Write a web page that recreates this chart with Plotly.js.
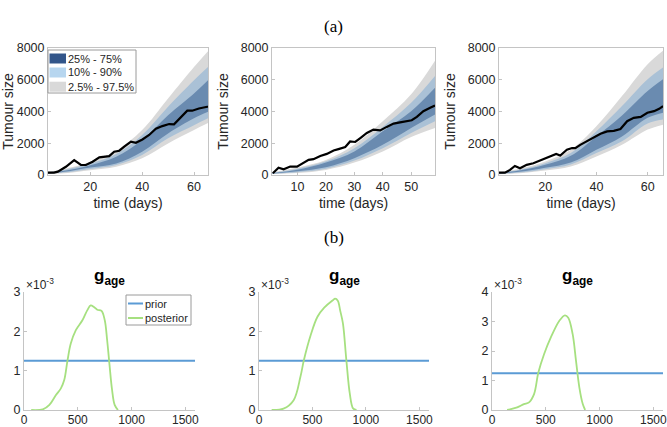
<!DOCTYPE html>
<html>
<head>
<meta charset="utf-8">
<script src="https://cdn.plot.ly/plotly-3.0.1.min.js"></script>
<style>html,body{margin:0;padding:0;background:#fff;}#chart{width:667px;height:427px;}</style>
</head>
<body>
<div id="chart"></div>
<script>
// ---------- DATA ----------
// Panel (a)-1
const obsDays1 = [3.7,6,7.5,10.6,13.8,16.4,18.3,20.9,23.5,25.4,27.3,29.2,31.2,33.1,35.7,37.6,40.1,42.7,45.3,47.8,50.4,52.3,54.9,57.4,59.3,61.9,65.1,65.4];
const obsSize1 = [150,150,210,520,940,630,630,840,1110,1150,1190,1470,1530,1780,2100,2030,2240,2520,2910,3080,3210,3190,3630,4050,4050,4190,4300,4300];
const bandDays1 = [3.7,10,20,30,40,50,60,65.4];
const q025_1 = [60,110,300,520,1050,1990,2830,3270];
const q10_1  = [80,150,380,630,1260,2310,3140,3570];
const q25_1  = [100,200,470,730,1470,2620,3570,3980];
const q75_1  = [150,270,620,1150,2200,3770,5140,5970];
const q90_1  = [175,320,720,1320,2520,4300,5970,6800];
const q975_1 = [200,380,820,1530,2830,4820,6800,7800];

// Panel (a)-2
const obsDays2 = [1.3,3.3,5.1,7.4,9.8,12.1,13.9,15.6,18,20.3,22.7,24.4,26.8,28.5,30.3,32.1,34.4,36.7,39.1,41.4,43.8,46.1,48.5,50.2,52,54.3,56.7,58.4];
const obsSize2 = [110,460,360,530,530,780,950,1000,1200,1330,1540,1630,1760,2110,2080,2330,2650,2860,2810,3030,3240,3320,3390,3450,3660,4020,4230,4380];
const bandDays2 = [1,10,20,30,40,50,58.4];
const q025_2 = [60,130,320,780,1480,2390,2960];
const q10_2  = [75,180,400,910,1690,2650,3390];
const q25_2  = [90,240,490,1060,1900,2960,3810];
const q75_2  = [115,330,780,1480,2750,4020,5500];
const q90_2  = [130,400,860,1690,3030,4550,6240];
const q975_2 = [150,470,950,1900,3390,5080,7190];

// Panel (a)-3
const obsDays3 = [2,4.3,6.3,8.2,10.2,12.8,15.4,18,20.7,23.3,24.3,25.9,28.5,30.5,31.8,33.7,36.3,38.9,41.6,44.2,46.8,49.4,52,54.6,57.3,59.9,62.5,64.5,66];
const obsSize3 = [150,150,320,570,420,640,740,910,1060,1270,1330,1230,1590,1700,1690,1900,2120,2390,2600,2750,2780,2900,3390,3600,3660,3920,4020,4170,4340];
const bandDays3 = [2,10,20,30,40,50,60,66];
const q025_3 = [50,110,280,530,1160,1900,2860,3170];
const q10_3  = [70,150,360,660,1380,2120,3240,3490];
const q25_3  = [90,200,450,780,1590,2430,3600,3920];
const q75_3  = [130,280,640,1210,2430,3750,5290,6030];
const q90_3  = [150,330,740,1380,2750,4340,6030,6770];
const q975_3 = [170,390,850,1590,3070,4970,6980,7830];

// Panel (b): posterior densities of g_age
const gAge1 = [67,175,236,297,343,374,405,435,482,543,589,620,650,681,721,751,773,794,819,843,874];
const post1 = [0,0.000017,0.00013,0.00038,0.00055,0.00076,0.00127,0.00169,0.00203,0.00228,0.00254,0.00266,0.00262,0.00255,0.00252,0.00228,0.00178,0.00118,0.00051,0.00013,0];
const gAge2 = [118,229,324,388,420,483,547,610,690,712,737,760,785,817,849,880,912];
const post2 = [0,0.000034,0.00025,0.00085,0.00127,0.0019,0.00237,0.0026,0.00279,0.00283,0.00278,0.00252,0.0022,0.00127,0.00042,0.00004,0];
const gAge3 = [141,234,297,344,391,431,484,547,625,678,709,750,781,812,844,866];
const post3 = [0,0.00009,0.0002,0.00026,0.00054,0.00127,0.00189,0.00246,0.00302,0.00321,0.00313,0.00257,0.00167,0.00077,0.0002,0];
const priorRange = [0, 1590];
const priorDensity = 0.00125;

const bandNames = ['25% - 75%','10% - 90%','2.5% - 97.5%'];
const densityNames = ['prior','posterior'];
const topXTicks = [[20,40,60],[10,20,30,40,50],[20,40,60]];
const topXRange = [[3.7,65.4],[1,58.4],[2,66]];
const topYTicks = [0,2000,4000,6000,8000];
const botXTicks = [0,500,1000,1500];
const botYMax = [0.003,0.003,0.004];

// ---------- STYLE ----------
const cOuter = '#d9d9d9', cMid = '#aac1d6', cInner = '#6a8bb0';
const legCols = ['#33568a', '#b7d6ef', '#d9d9d9'];
const cPrior = '#5b9bd5', cPost = '#a6e080';
const FONT = 'Liberation Sans, Arial, sans-serif';
const SERIF = 'Liberation Serif, DejaVu Serif, serif';
const txtCol = '#262626';
const axCol = '#c4c4c4';
const W=667, H=427;
const px = v=>v/W, py = v=>1-v/H;

const traces = [];
const panelsA = [
  {d:obsDays1, s:obsSize1, b:bandDays1, q:[q025_1,q10_1,q25_1,q75_1,q90_1,q975_1]},
  {d:obsDays2, s:obsSize2, b:bandDays2, q:[q025_2,q10_2,q25_2,q75_2,q90_2,q975_2]},
  {d:obsDays3, s:obsSize3, b:bandDays3, q:[q025_3,q10_3,q25_3,q75_3,q90_3,q975_3]}
];
panelsA.forEach((p,i)=>{
  const xa = 'x'+(i===0?'':(i+1)), ya = 'y'+(i===0?'':(i+1));
  const pairs = [[0,5,cOuter],[1,4,cMid],[2,3,cInner]];
  pairs.forEach(([lo,hi,col])=>{
    traces.push({x:p.b, y:p.q[lo], xaxis:xa, yaxis:ya, mode:'lines', line:{width:0, shape:'spline', color:col}, showlegend:false, hoverinfo:'skip'});
    traces.push({x:p.b, y:p.q[hi], xaxis:xa, yaxis:ya, mode:'lines', fill:'tonexty', fillcolor:col, line:{width:0, shape:'spline', color:col}, showlegend:false, hoverinfo:'skip'});
  });
  traces.push({x:p.d, y:p.s, xaxis:xa, yaxis:ya, mode:'lines', line:{color:'#000', width:2.2}, showlegend:false});
});

const panelsB = [[gAge1,post1],[gAge2,post2],[gAge3,post3]];
panelsB.forEach(([gx,gy],i)=>{
  const xa = 'x'+(i+4), ya = 'y'+(i+4);
  traces.push({x:priorRange, y:[priorDensity,priorDensity], xaxis:xa, yaxis:ya, mode:'lines', line:{color:cPrior, width:2}, name:densityNames[0], showlegend:false});
  traces.push({x:gx, y:gy, xaxis:xa, yaxis:ya, mode:'lines', line:{color:cPost, width:1.8, shape:'spline'}, name:densityNames[1], showlegend:false});
});

const baseAx = {
  showgrid:false, zeroline:false, showline:true, linecolor:axCol, linewidth:1,
  ticks:'inside', ticklen:3, tickcolor:axCol, ticklabeloverflow:'allow',
  tickfont:{family:FONT, size:12.5, color:txtCol}
};
const layout = {
  width:W, height:H, margin:{l:0,r:0,t:0,b:0}, paper_bgcolor:'#fff', plot_bgcolor:'#fff',
  font:{family:FONT, color:txtCol}, showlegend:false,
  annotations:[], shapes:[]
};
const topDom = [[48,208],[272,435],[499,663]];
const botDom = [[24,195],[259,429],[492,663]];
for(let i=0;i<3;i++){
  const k = i===0?'':(i+1);
  layout['xaxis'+k] = Object.assign({}, baseAx, {domain:[px(topDom[i][0]),px(topDom[i][1])], anchor:'y'+k, range:topXRange[i], tickvals:topXTicks[i], mirror:true,
    title:{text:'time (days)', font:{size:14, family:FONT, color:txtCol}, standoff:5}});
  layout['yaxis'+k] = Object.assign({}, baseAx, {domain:[py(175),py(48)], anchor:'x'+k, range:[0,8000], tickvals:topYTicks, mirror:true,
    title:{text:'Tumour size', font:{size:14, family:FONT, color:txtCol}, standoff:8}});
}
for(let i=0;i<3;i++){
  const k = i+4;
  const yt = []; for(let v=0; v<=botYMax[i]*1000+1e-9; v++) yt.push(v);
  layout['xaxis'+k] = Object.assign({}, baseAx, {domain:[px(botDom[i][0]),px(botDom[i][1])], anchor:'y'+k, range:[0,1590], tickvals:botXTicks,
    tickfont:{family:FONT, size:12, color:txtCol}, ticklabelstandoff:-1});
  layout['yaxis'+k] = Object.assign({}, baseAx, {domain:[py(410),py(292)], anchor:'x'+k, range:[0,botYMax[i]], tickvals:yt.map(v=>v/1000), ticktext:yt.map(String)});
  layout.annotations.push({xref:'paper', yref:'paper', x:px((botDom[i][0]+botDom[i][1])/2), y:py(277), text:'<b>g<sub>age</sub></b>', showarrow:false, font:{size:17, family:FONT, color:'#000'}, xanchor:'center', yanchor:'middle'});
  layout.annotations.push({xref:'paper', yref:'paper', x:px(botDom[i][0]), y:py(284), text:'×10<sup>-3</sup>', showarrow:false, font:{size:12, family:FONT, color:txtCol}, xanchor:'left', yanchor:'middle'});
}
layout.annotations.push({xref:'paper', yref:'paper', x:0.5, y:py(15), text:'(a)', showarrow:false, font:{size:17, family:SERIF, color:'#000'}});
layout.annotations.push({xref:'paper', yref:'paper', x:0.5, y:py(238), text:'(b)', showarrow:false, font:{size:17, family:SERIF, color:'#000'}});

// ---- legend (a): box, patches, labels ----
layout.shapes.push({type:'rect', xref:'paper', yref:'paper', x0:px(48), x1:px(136), y0:py(93), y1:py(50), fillcolor:'#fff', line:{color:'#9a9a9a', width:1}, layer:'above'});
const rowA = [58.5, 72.5, 86.7];
bandNames.forEach((n,j)=>{
  layout.shapes.push({type:'rect', xref:'paper', yref:'paper', x0:px(49.5), x1:px(66), y0:py(rowA[j]+5), y1:py(rowA[j]-5), fillcolor:legCols[j], line:{width:0}, layer:'above'});
  layout.annotations.push({xref:'paper', yref:'paper', x:px(66), y:py(rowA[j]), text:n, showarrow:false, xanchor:'left', yanchor:'middle', font:{size:11, family:FONT, color:txtCol}});
});
// ---- legend (b) ----
layout.shapes.push({type:'rect', xref:'paper', yref:'paper', x0:px(126), x1:px(191), y0:py(325), y1:py(295), fillcolor:'#fff', line:{color:'#9a9a9a', width:1}, layer:'above'});
const rowB = [303.5, 318];
[cPrior, cPost].forEach((c,j)=>{
  layout.shapes.push({type:'line', xref:'paper', yref:'paper', x0:px(128), x1:px(143), y0:py(rowB[j]), y1:py(rowB[j]), line:{color:c, width:2}, layer:'above'});
  layout.annotations.push({xref:'paper', yref:'paper', x:px(143), y:py(rowB[j]), text:densityNames[j], showarrow:false, xanchor:'left', yanchor:'middle', font:{size:11, family:FONT, color:txtCol}});
});

Plotly.newPlot('chart', traces, layout, {staticPlot:true, displayModeBar:false});
</script>
</body>
</html>
